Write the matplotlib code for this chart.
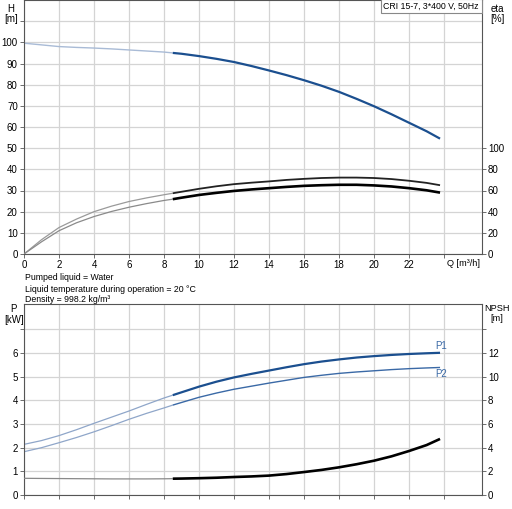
import numpy as np
import matplotlib
matplotlib.use('Agg')
import matplotlib.pyplot as plt

plt.rcParams['font.family'] = ['Liberation Sans', 'DejaVu Sans']
plt.rcParams['font.size'] = 6.3

# Flow [m3/h]
q = [0, 1, 2, 3, 4, 5, 6, 7, 8, 8.5, 9, 10, 11, 12, 13, 14, 15, 16, 17, 18, 19, 20, 21, 22, 23, 23.77]
# Head [m]
head = [99.6, 98.8, 98.0, 97.6, 97.3, 96.9, 96.4, 95.9, 95.4, 95.0, 94.6, 93.5, 92.2, 90.7, 88.8,
        86.7, 84.5, 82.1, 79.5, 76.6, 73.3, 69.8, 66.0, 62.0, 58.0, 54.5]
# Efficiencies [%]
eta_upper = [0, 13.5, 25.0, 33.0, 40.0, 45.2, 49.6, 53.0, 56.0, 57.4, 58.8, 61.6, 64.0, 66.0, 67.4,
             68.6, 70.0, 71.0, 71.8, 72.2, 72.2, 71.8, 70.8, 69.2, 67.2, 65.0]
eta_lower = [0, 11.5, 22.0, 29.5, 35.4, 40.2, 44.2, 47.6, 50.6, 51.8, 53.2, 55.8, 57.8, 59.6, 61.0,
             62.2, 63.4, 64.4, 65.0, 65.4, 65.4, 64.8, 63.8, 62.2, 60.2, 58.0]
# Power [kW]
p1 = [2.14, 2.30, 2.51, 2.76, 3.03, 3.29, 3.55, 3.83, 4.10, 4.22, 4.34, 4.58, 4.79, 4.97, 5.12,
      5.26, 5.40, 5.53, 5.64, 5.73, 5.81, 5.87, 5.92, 5.96, 5.99, 6.01]
p2 = [1.83, 2.00, 2.21, 2.43, 2.67, 2.93, 3.20, 3.45, 3.68, 3.80, 3.91, 4.13, 4.31, 4.47, 4.60,
      4.73, 4.85, 4.97, 5.06, 5.14, 5.20, 5.25, 5.30, 5.34, 5.37, 5.39]
# NPSH [m]
npsh = [1.41, 1.40, 1.39, 1.38, 1.37, 1.36, 1.36, 1.36, 1.37, 1.38, 1.39, 1.42, 1.46, 1.52, 1.57,
        1.64, 1.77, 1.94, 2.12, 2.34, 2.60, 2.90, 3.27, 3.72, 4.22, 4.74]

split = 8.5
dark_blue = '#1b4f8f'
mid_blue = '#3a69a6'
light_blue = '#a9bbd6'
grid_col = '#d4d4d4'
spine_col = '#555555'


def two_part(ax, x, y, thin_col, thick_col, lw_thin, lw_thick):
    x = np.array(x)
    y = np.array(y)
    a = x <= split
    b = x >= split
    ax.plot(x[a], y[a], color=thin_col, lw=lw_thin, solid_capstyle='butt')
    ax.plot(x[b], y[b], color=thick_col, lw=lw_thick, solid_capstyle='butt')


def style(ax):
    ax.grid(True, color=grid_col, lw=0.9)
    ax.set_axisbelow(True)
    for s in ax.spines.values():
        s.set_color(spine_col)
        s.set_linewidth(0.8)
    ax.tick_params(length=3, width=0.6, color=spine_col, pad=1.5, labelsize=7)


fig = plt.figure(figsize=(5.12, 5.09), dpi=100)

xt = np.arange(0, 25, 2)
xmax = 26.15

# ---- top chart: H and eta
ax1 = fig.add_axes([24 / 512, 1 - 254 / 509, 457.7 / 512, 254 / 509])
style(ax1)
ax1.set_xlim(0, xmax)
ax1.set_ylim(0, 120)
ax1.set_xticks(xt)
ax1.set_xticklabels([str(v) for v in xt[:-1]] + [''])
ax1.set_yticks(np.arange(0, 120, 10))
ax1.set_yticklabels([str(v) for v in range(0, 110, 10)] + [''])

two_part(ax1, q, head, light_blue, dark_blue, 1.0, 1.6)

ax1b = ax1.twinx()
ax1b.set_ylim(0, 240)
ax1b.set_yticks(np.arange(0, 101, 20))
for s in ax1b.spines.values():
    s.set_visible(False)
ax1b.tick_params(length=3, width=0.6, color=spine_col, pad=1.5, labelsize=7)
two_part(ax1b, q, eta_upper, '#9a9a9a', '#222222', 0.9, 1.3)
two_part(ax1b, q, eta_lower, '#8a8a8a', '#000000', 0.9, 1.9)

ax1.text(-0.028, 0.985, 'H\n[m]', transform=ax1.transAxes, ha='center', va='top',
         fontsize=7, linespacing=1.05)
ax1.text(1.035, 0.985, 'eta\n[%]', transform=ax1.transAxes, ha='center', va='top',
         fontsize=7, linespacing=1.05)
ax1.text(0.925, -0.018, 'Q [m³/h]', transform=ax1.transAxes, ha='left', va='top', fontsize=6.6)
ax1.text(0.994, 0.993, 'CRI 15-7, 3*400 V, 50Hz', transform=ax1.transAxes, ha='right', va='top',
         fontsize=6.3, bbox=dict(boxstyle='square,pad=0.3', fc='white', ec='#888888', lw=0.8))

# liquid info
fig.text(25 / 512, 1 - 278 / 509, 'Pumped liquid = Water', va='center', fontsize=6.3)
fig.text(25 / 512, 1 - 289 / 509, 'Liquid temperature during operation = 20 °C', va='center', fontsize=6.3)
fig.text(25 / 512, 1 - 299.5 / 509, 'Density = 998.2 kg/m³', va='center', fontsize=6.3)

# ---- bottom chart: P and NPSH
ax2 = fig.add_axes([24 / 512, 14 / 509, 457.7 / 512, 190.7 / 509])
style(ax2)
ax2.set_xlim(0, xmax)
ax2.set_ylim(0, 8.06)
ax2.set_xticks(xt)
ax2.set_xticklabels([])
ax2.set_yticks(np.arange(0, 8, 1))
ax2.set_yticklabels([str(v) for v in range(0, 7)] + [''])

two_part(ax2, q, p1, '#8fa6c9', dark_blue, 0.9, 1.6)
two_part(ax2, q, p2, '#8fa6c9', mid_blue, 0.9, 1.0)

ax2b = ax2.twinx()
ax2b.set_ylim(0, 16.12)
ax2b.set_yticks(np.arange(0, 15, 2))
ax2b.set_yticklabels([str(v) for v in range(0, 13, 2)] + [''])
for s in ax2b.spines.values():
    s.set_visible(False)
ax2b.tick_params(length=3, width=0.6, color=spine_col, pad=1.5, labelsize=7)
two_part(ax2b, q, npsh, '#8a8a8a', '#000000', 0.9, 1.9)

ax2.text(q[-1] - 0.25, p1[-1] + 0.08, 'P1', color=mid_blue, ha='left', va='bottom', fontsize=7)
ax2.text(q[-1] - 0.25, p2[-1] - 0.06, 'P2', color=mid_blue, ha='left', va='top', fontsize=7)

ax2.text(-0.022, 1.0, 'P\n[kW]', transform=ax2.transAxes, ha='center', va='top',
         fontsize=7, linespacing=1.05)
ax2.text(1.034, 1.0, 'NPSH\n[m]', transform=ax2.transAxes, ha='center', va='top',
         fontsize=6.6, linespacing=1.05)

fig.savefig('out.png', dpi=100)
